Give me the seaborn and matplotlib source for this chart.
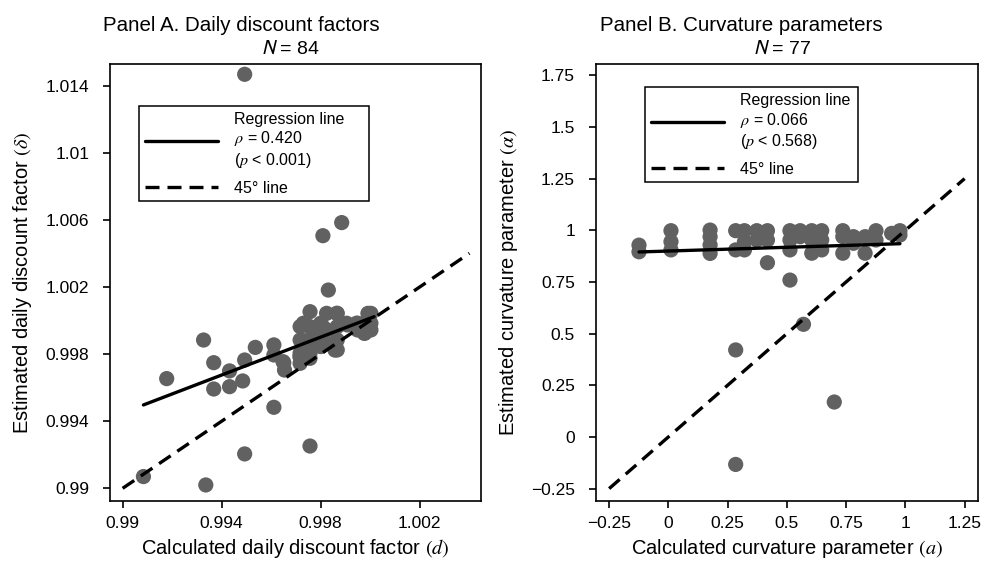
import matplotlib
matplotlib.use("Agg")
import matplotlib.pyplot as plt
import seaborn as sns
import pandas as pd

# Panel A - daily discount factors (calculated d vs estimated delta)
a_calc = [0.99493, 0.99809, 0.99885, 0.99831, 0.99757, 0.99327, 0.99178, 0.99368, 0.99368,
          0.99432, 0.99432, 0.99485, 0.99493, 0.99536, 0.99611, 0.99611, 0.99651, 0.99654,
          0.99611, 0.99493, 0.99757, 0.99336, 0.99084,
          0.99730, 0.99824, 0.99865, 0.99723, 0.99716, 0.99648, 0.99809, 0.99809, 0.99858,
          0.99905, 0.99945, 0.99991, 0.99991, 0.99979, 0.99769, 0.99728,
          0.99717, 0.99717, 0.99717, 0.99717, 0.99757, 0.99757, 0.99757, 0.99757,
          0.99800, 0.99800, 0.99800, 0.99826, 0.99826, 0.99867, 0.99867, 0.99867, 0.99867,
          0.99908, 0.99949, 0.99949, 0.99976, 0.99976, 1.00003, 1.00003, 1.00003]
a_est = [1.01468, 1.00506, 1.00584, 1.00182, 1.00053, 0.99884, 0.99654, 0.99749, 0.99592,
         0.99700, 0.99606, 0.99640, 0.99765, 0.99840, 0.99855, 0.99795, 0.99749, 0.99705,
         0.99483, 0.99205, 0.99252, 0.99020, 0.99070,
         0.99984, 1.00043, 1.00043, 0.99884, 0.99785, 0.99755, 0.99963, 0.99884, 0.99824,
         0.99984, 0.99984, 1.00043, 0.99985, 0.99925, 0.99925, 0.99824,
         0.99964, 0.99884, 0.99805, 0.99745, 0.99964, 0.99884, 0.99805, 0.99775,
         0.99984, 0.99924, 0.99845, 0.99944, 0.99864, 1.00043, 0.99964, 0.99884, 0.99825,
         0.99974, 0.99984, 0.99944, 0.99984, 0.99924, 1.00043, 0.99984, 0.99944]
a_reg_x = [0.99084, 1.00016]
a_reg_y = [0.99497, 1.00023]
a_diag = [0.99, 1.00401]

# Panel B - curvature parameters (calculated a vs estimated alpha)
b_calc = [-0.124, -0.124, 0.011, 0.011, 0.011, 0.176, 0.176, 0.176, 0.176,
          0.284, 0.284, 0.284, 0.284, 0.321, 0.321, 0.321, 0.373, 0.373,
          0.418, 0.418, 0.418, 0.513, 0.513, 0.513, 0.513, 0.556, 0.556, 0.570,
          0.605, 0.605, 0.605, 0.647, 0.647, 0.647, 0.700, 0.736, 0.736, 0.736,
          0.781, 0.781, 0.830, 0.830, 0.876, 0.876, 0.942, 0.977, 0.977]
b_est = [0.928, 0.896, 0.998, 0.945, 0.905, 1.001, 0.969, 0.929, 0.888,
         0.998, 0.905, 0.421, -0.133, 0.998, 0.945, 0.905, 0.998, 0.953,
         0.998, 0.953, 0.843, 0.998, 0.953, 0.905, 0.759, 0.998, 0.969, 0.545,
         0.998, 0.953, 0.889, 0.998, 0.953, 0.905, 0.169, 0.998, 0.969, 0.889,
         0.969, 0.937, 0.969, 0.889, 0.998, 0.953, 0.985, 0.998, 0.977]
b_reg_x = [-0.124, 0.977]
b_reg_y = [0.895, 0.935]
b_diag = [-0.25, 1.25]

a_xticks = [0.99, 0.994, 0.998, 1.002]
a_xlabels = ["0.99", "0.994", "0.998", "1.002"]
a_yticks = [0.99, 0.994, 0.998, 1.002, 1.006, 1.01, 1.014]
a_ylabels = ["0.99", "0.994", "0.998", "1.002", "1.006", "1.01", "1.014"]
b_xticks = [-0.25, 0, 0.25, 0.5, 0.75, 1, 1.25]
b_xlabels = ["\u22120.25", "0", "0.25", "0.5", "0.75", "1", "1.25"]
b_yticks = [-0.25, 0, 0.25, 0.5, 0.75, 1, 1.25, 1.5, 1.75]
b_ylabels = ["\u22120.25", "0", "0.25", "0.5", "0.75", "1", "1.25", "1.5", "1.75"]

sns.set_style("ticks")
plt.rcParams['font.family'] = ['Liberation Sans', 'DejaVu Sans']
plt.rcParams['mathtext.fontset'] = 'stix'
plt.rcParams['text.color'] = 'black'
plt.rcParams['axes.labelcolor'] = 'black'
plt.rcParams['axes.linewidth'] = 1.2
plt.rcParams['xtick.major.size'] = 5
plt.rcParams['ytick.major.size'] = 5
plt.rcParams['xtick.major.width'] = 1.2
plt.rcParams['ytick.major.width'] = 1.2

fig = plt.figure(figsize=(9.84, 5.72), dpi=100)
axA = fig.add_axes([0.1118, 0.1241, 0.3767, 0.7640])
axB = fig.add_axes([0.6054, 0.1241, 0.3882, 0.7640])

pt_color = "#616161"


def draw_panel(ax, calc, est, reg_x, reg_y, diag, rho, pval):
    df = pd.DataFrame({"calc": calc, "est": est})
    sns.scatterplot(data=df, x="calc", y="est", ax=ax, color=pt_color, s=120,
                    edgecolor="none", zorder=2)
    sns.lineplot(x=reg_x, y=reg_y, ax=ax, color="black", lw=2.4,
                 estimator=None, zorder=3, label="Regression line\n$\\rho$ = %s\n($p$ < %s)" % (rho, pval))
    sns.lineplot(x=diag, y=diag, ax=ax, color="black", lw=2.4, estimator=None,
                 zorder=3, label="45\u00b0 line")
    ax.lines[-1].set_dashes([4.2, 2.4])
    for sp in ax.spines.values():
        sp.set_visible(True)
        sp.set_color("black")
    ax.tick_params(labelsize=12.5, colors="black")
    ax.tick_params(axis="y", pad=10)
    ax.tick_params(axis="x", pad=6)


draw_panel(axA, a_calc, a_est, a_reg_x, a_reg_y, a_diag, "0.420", "0.001")
draw_panel(axB, b_calc, b_est, b_reg_x, b_reg_y, b_diag, "0.066", "0.568")

axA.set_xlim(0.98949, 1.004465)
axA.set_ylim(0.989243, 1.015294)
axA.set_xticks(a_xticks, a_xlabels)
axA.set_yticks(a_yticks, a_ylabels)
axB.set_xlim(-0.3066, 1.3052)
axB.set_ylim(-0.31, 1.8045)
axB.set_xticks(b_xticks, b_xlabels)
axB.set_yticks(b_yticks, b_ylabels)

axA.set_xlabel("Calculated daily discount factor $(d)$", fontsize=14.5, labelpad=4)
axA.set_ylabel("Estimated daily discount factor $(\\delta)$", fontsize=14.5, labelpad=8)
axB.set_xlabel("Calculated curvature parameter $(a)$", fontsize=14.5, labelpad=4)
axB.set_ylabel("Estimated curvature parameter $(\\alpha)$", fontsize=14.5, labelpad=8)

# legend boxes: (left, top, width) in axes fraction
for ax, x0, ytop, w in [(axA, 0.079, 0.904, 0.619), (axB, 0.129, 0.947, 0.558)]:
    leg = ax.legend(loc="upper left", bbox_to_anchor=(x0, ytop, w, 0), mode="expand",
                    fontsize=11.5, frameon=True, fancybox=False, edgecolor="black",
                    framealpha=1, handlelength=4.6, labelspacing=0.65, borderpad=0.35,
                    borderaxespad=0, handletextpad=1.0)
    leg.get_frame().set_linewidth(1.1)
    for t in leg.get_texts():
        t.set_color("black")

fig.text(0.105, 0.955, "Panel A. Daily discount factors", fontsize=14.8, ha="left", va="center")
fig.text(0.295, 0.915, "$N$ = 84", fontsize=14, ha="center", va="center", math_fontfamily="stixsans")
fig.text(0.610, 0.955, "Panel B. Curvature parameters", fontsize=14.8, ha="left", va="center")
fig.text(0.795, 0.915, "$N$ = 77", fontsize=14, ha="center", va="center", math_fontfamily="stixsans")

fig.savefig("out.png", dpi=100)
